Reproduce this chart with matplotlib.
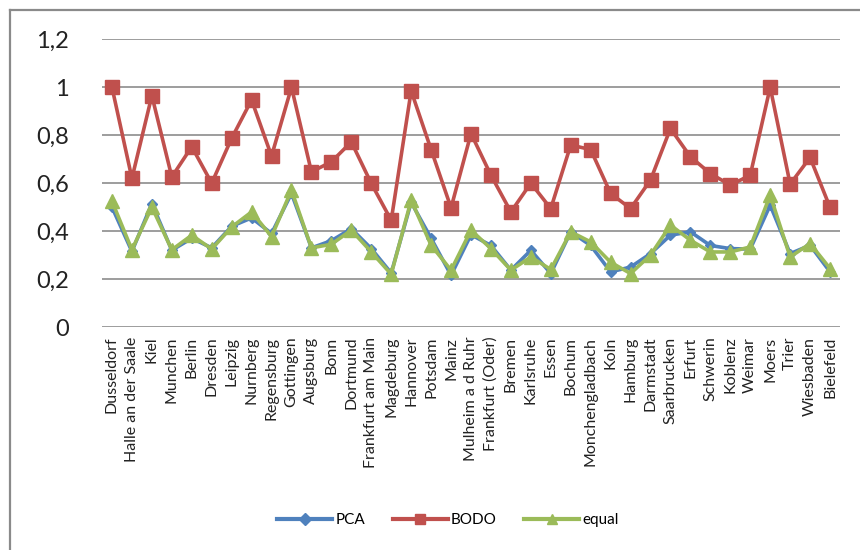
import matplotlib
matplotlib.use("Agg")
import matplotlib.pyplot as plt
from matplotlib.lines import Line2D
from matplotlib.ticker import FuncFormatter

cities = ["Dusseldorf", "Halle an der Saale", "Kiel", "Munchen", "Berlin", "Dresden",
          "Leipzig", "Nurnberg", "Regensburg", "Gottingen", "Augsburg", "Bonn",
          "Dortmund", "Frankfurt am Main", "Magdeburg", "Hannover", "Potsdam", "Mainz",
          "Mulheim a d Ruhr", "Frankfurt (Oder)", "Bremen", "Karlsruhe", "Essen",
          "Bochum", "Monchengladbach", "Koln", "Hamburg", "Darmstadt", "Saarbrucken",
          "Erfurt", "Schwerin", "Koblenz", "Weimar", "Moers", "Trier", "Wiesbaden",
          "Bielefeld"]

pca = [0.50, 0.315, 0.515, 0.32, 0.37, 0.33, 0.42, 0.455, 0.39, 0.557, 0.33, 0.36,
       0.41, 0.327, 0.225, 0.52, 0.37, 0.216, 0.385, 0.34, 0.237, 0.32, 0.223,
       0.397, 0.34, 0.23, 0.25, 0.306, 0.383, 0.397, 0.34, 0.327, 0.325, 0.508,
       0.306, 0.341, 0.23]

bodo = [1.0, 0.62, 0.965, 0.626, 0.752, 0.60, 0.787, 0.947, 0.713, 1.0, 0.647, 0.689,
        0.772, 0.599, 0.445, 0.985, 0.74, 0.497, 0.807, 0.633, 0.48, 0.60, 0.494,
        0.759, 0.74, 0.557, 0.494, 0.613, 0.828, 0.71, 0.64, 0.592, 0.633, 1.0,
        0.596, 0.707, 0.499]

equal = [0.525, 0.322, 0.50, 0.322, 0.383, 0.325, 0.417, 0.48, 0.377, 0.571, 0.33, 0.345,
         0.404, 0.313, 0.22, 0.529, 0.341, 0.237, 0.404, 0.327, 0.237, 0.292, 0.24,
         0.397, 0.355, 0.27, 0.223, 0.30, 0.425, 0.362, 0.313, 0.313, 0.334, 0.55,
         0.292, 0.348, 0.244]

series_names = ["PCA", "BODO", "equal"]

plt.rcParams["font.family"] = ["Lato", "DejaVu Sans"]

fig = plt.figure(figsize=(8.6, 5.5), dpi=100)
ax = fig.add_axes([102 / 860, 1 - 327 / 550, 738 / 860, (327 - 39.3) / 550])

x = list(range(len(cities)))
ax.plot(x, pca, color="#4F81BD", lw=2.6, marker="D", ms=5.5, label=series_names[0], zorder=3)
ax.plot(x, bodo, color="#C0504D", lw=2.6, marker="s", ms=10.5, label=series_names[1], zorder=3)
ax.plot(x, equal, color="#9BBB59", lw=2.6, marker="^", ms=10.5, label=series_names[2], zorder=4)

ax.set_xlim(-0.5, len(cities) - 0.5)
ax.set_ylim(0, 1.2)
ax.set_yticks([0, 0.2, 0.4, 0.6, 0.8, 1.0, 1.2])
ax.yaxis.set_major_formatter(FuncFormatter(lambda v, p: f"{v:g}".replace(".", ",")))
ax.set_xticks(x)
ax.set_xticklabels(cities, rotation=90, fontsize=11.5, color="#222222")
ax.tick_params(axis="y", length=0, pad=24, labelsize=17, labelcolor="#222222")
ax.tick_params(axis="x", length=0, pad=7)
ax.grid(axis="y", color="#8c8c8c", lw=1.2)
ax.set_axisbelow(True)
for s in ax.spines.values():
    s.set_visible(False)

leg = fig.legend(loc="center", bbox_to_anchor=(448 / 860, 1 - 520 / 550), ncol=3,
                 frameon=False, fontsize=11, handlelength=3.6, columnspacing=1.8,
                 handletextpad=0.2)
for h in leg.legend_handles:
    h.set_markersize(6.5)
    h.set_linewidth(3)

# outer chart frame
fig.add_artist(Line2D([10 / 860, 10 / 860], [0, 1 - 10 / 550], color="#8a8a8a", lw=1.6))
fig.add_artist(Line2D([10 / 860, 1], [1 - 10 / 550, 1 - 10 / 550], color="#8a8a8a", lw=1.6))

fig.savefig("out.png", dpi=100, facecolor="white")
